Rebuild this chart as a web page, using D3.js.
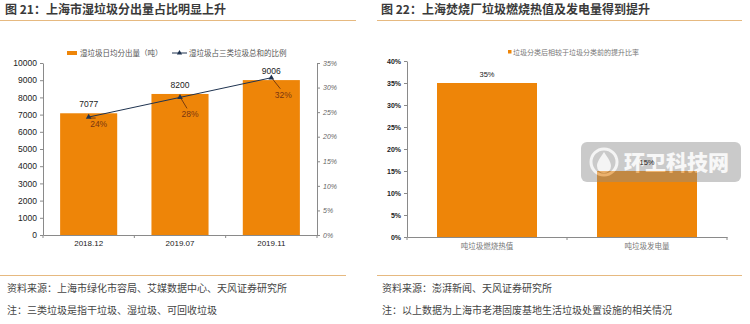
<!DOCTYPE html>
<html>
<head>
<meta charset="utf-8">
<script src="https://cdn.jsdelivr.net/npm/d3@7/dist/d3.min.js"></script>
<style>
  html, body { margin: 0; padding: 0; background: #fff; }
  svg { display: block; }
  text { font-family: "Liberation Sans", Arial, sans-serif; }
  .cjk { font-family: "Noto Sans CJK SC", sans-serif; }
</style>
</head>
<body>
<svg id="chart" width="750" height="324"></svg>
<script>
// Figure 21: wet waste sorted per day and its share of the three categories
const months = ["2018.12", "2019.07", "2019.11"];
const wetWasteTons = [7077, 8200, 9006];
const wetSharePct = [24, 28, 32];
const leftTicks = [0, 1000, 2000, 3000, 4000, 5000, 6000, 7000, 8000, 9000, 10000];
const rightTicks = [0, 5, 10, 15, 20, 25, 30, 35];

// Figure 22: improvement after sorting at the Laogang incineration plant
const plantMetrics = ["吨垃圾燃烧热值", "吨垃圾发电量"];
const improvementPct = [35, 15];
const plantTicks = [0, 5, 10, 15, 20, 25, 30, 35, 40];

const ORANGE = "#EE8508";
const NAVY = "#1F3350";
const AXIS = "#8a8a8a";

const svg = d3.select("#chart");
const base = svg.append("g");
const overlay = svg.append("g");   // site watermark
const labels = svg.append("g");    // value labels drawn on top

// ---- headers and footers ----
function header(x, text, lineX0, lineX1) {
  base.append("text").attr("class", "cjk")
    .attr("x", x).attr("y", 14)
    .attr("font-size", 12).attr("font-weight", 700).attr("fill", "#3a3a3a")
    .text(text);
  base.append("line")
    .attr("x1", lineX0).attr("x2", lineX1).attr("y1", 20.5).attr("y2", 20.5)
    .attr("stroke", "#E6B980").attr("stroke-width", 1.2);
}
header(5, "图 21：上海市湿垃圾分出量占比明显上升", 0, 356);
header(381, "图 22：上海焚烧厂垃圾燃烧热值及发电量得到提升", 377, 742);

function footer(x, lines, lineX0, lineX1) {
  base.append("line")
    .attr("x1", lineX0).attr("x2", lineX1).attr("y1", 275.5).attr("y2", 275.5)
    .attr("stroke", "#E6B980").attr("stroke-width", 1.2);
  lines.forEach((t, i) => {
    base.append("text").attr("class", "cjk")
      .attr("x", x).attr("y", 292 + i * 22)
      .attr("font-size", 10).attr("fill", "#454545")
      .text(t);
  });
}
footer(7, ["资料来源：上海市绿化市容局、艾媒数据中心、天风证券研究所",
           "注：三类垃圾是指干垃圾、湿垃圾、可回收垃圾"], 0, 346);
footer(382, ["资料来源：澎湃新闻、天风证券研究所",
             "注：以上数据为上海市老港固废基地生活垃圾处置设施的相关情况"], 377, 742);

// ---- Figure 21 ----
(function () {
  const x0 = 43, x1 = 317, yTop = 63, yBot = 235;
  const g = base.append("g");
  const x = d3.scaleBand().domain(months).range([x0, x1]).paddingInner(0.375).paddingOuter(0.1875);
  const yL = d3.scaleLinear().domain([0, 10000]).range([yBot, yTop]);
  const yR = d3.scaleLinear().domain([0, 35]).range([yBot, yTop]);

  // bars
  g.selectAll("rect.bar").data(months).join("rect")
    .attr("x", d => x(d)).attr("width", x.bandwidth())
    .attr("y", (d, i) => yL(wetWasteTons[i]))
    .attr("height", (d, i) => yBot - yL(wetWasteTons[i]))
    .attr("fill", ORANGE);

  // left axis
  const ax = g.append("g").attr("transform", `translate(${x0},0)`)
    .call(d3.axisLeft(yL).tickValues(leftTicks).tickFormat(d3.format("d"))
      .tickSize(3).tickPadding(3).tickSizeOuter(0));
  ax.selectAll("text").attr("font-size", 8.5).attr("fill", "#222");
  // right axis
  const ar = g.append("g").attr("transform", `translate(${x1},0)`)
    .call(d3.axisRight(yR).tickValues(rightTicks).tickFormat(d => d + "%").tickSize(3).tickPadding(3).tickSizeOuter(0));
  ar.selectAll("text").attr("font-size", 7).attr("fill", "#666").attr("font-style", "italic");
  // bottom axis with ticks at category boundaries
  const ab = g.append("g").attr("transform", `translate(0,${yBot})`)
    .call(d3.axisBottom(x).tickSize(0).tickPadding(5).tickSizeOuter(0));
  ab.selectAll("text").attr("font-size", 8).attr("fill", "#222");
  [0, 1, 2, 3].forEach(i => {
    const bx = x0 + i * (x1 - x0) / 3;
    g.append("line").attr("x1", bx).attr("x2", bx).attr("y1", yBot).attr("y2", yBot + 3)
      .attr("stroke", AXIS);
  });
  [ax, ar, ab].forEach(a => a.selectAll("path, line").attr("stroke", AXIS));

  // bar value labels
  g.selectAll("text.val").data(months).join("text")
    .attr("x", d => x(d) + x.bandwidth() / 2)
    .attr("y", (d, i) => yL(wetWasteTons[i]) - 6)
    .attr("text-anchor", "middle").attr("font-size", 8.5).attr("fill", "#222")
    .text((d, i) => wetWasteTons[i]);

  // share line
  const pts = months.map((d, i) => [x(d) + x.bandwidth() / 2, yR(wetSharePct[i])]);
  g.append("path").attr("d", d3.line()(pts))
    .attr("fill", "none").attr("stroke", NAVY).attr("stroke-width", 1);
  g.selectAll("path.mk").data(pts).join("path")
    .attr("transform", p => `translate(${p[0]},${p[1]})`)
    .attr("d", d3.symbol(d3.symbolTriangle, 14)())
    .attr("fill", NAVY);

  // share labels with leader lines
  const labelOffsets = [[10, 7], [10, 17], [12, 17]];
  pts.forEach((p, i) => {
    const [dx, dy] = labelOffsets[i];
    g.append("line")
      .attr("x1", p[0] + 1).attr("y1", p[1] + 1)
      .attr("x2", p[0] + dx - 3).attr("y2", p[1] + dy - 6)
      .attr("stroke", "#5a2a10").attr("stroke-width", 0.8);
    g.append("text")
      .attr("x", p[0] + dx).attr("y", p[1] + dy + 3)
      .attr("text-anchor", "middle").attr("font-size", 8.5).attr("fill", "#7a3510")
      .text(wetSharePct[i] + "%");
  });

  // legend
  const lg = g.append("g").attr("transform", "translate(67,53)");
  lg.append("rect").attr("x", 0).attr("y", -2).attr("width", 10).attr("height", 4).attr("fill", ORANGE);
  lg.append("text").attr("class", "cjk").attr("x", 13).attr("y", 3)
    .attr("font-size", 7.5).attr("fill", "#555").text("湿垃圾日均分出量（吨）");
  lg.append("line").attr("x1", 105).attr("x2", 120).attr("y1", 0).attr("y2", 0)
    .attr("stroke", NAVY).attr("stroke-width", 1);
  lg.append("path").attr("transform", "translate(112.5,0)")
    .attr("d", d3.symbol(d3.symbolTriangle, 12)()).attr("fill", NAVY);
  lg.append("text").attr("class", "cjk").attr("x", 122).attr("y", 3)
    .attr("font-size", 7.5).attr("fill", "#555").text("湿垃圾占三类垃圾总和的比例");
})();

// ---- Figure 22 ----
(function () {
  const x0 = 407, x1 = 727, yTop = 61, yBot = 237;
  const g = base.append("g");
  const x = d3.scaleBand().domain(plantMetrics).range([x0, x1]).paddingInner(0.375).paddingOuter(0.1875);
  const y = d3.scaleLinear().domain([0, 40]).range([yBot, yTop]);

  g.selectAll("rect.bar").data(plantMetrics).join("rect")
    .attr("x", d => x(d)).attr("width", x.bandwidth())
    .attr("y", (d, i) => y(improvementPct[i]))
    .attr("height", (d, i) => yBot - y(improvementPct[i]))
    .attr("fill", ORANGE);

  const ay = g.append("g").attr("transform", `translate(${x0},0)`)
    .call(d3.axisLeft(y).tickValues(plantTicks).tickFormat(d => d + "%").tickSize(3).tickPadding(3).tickSizeOuter(0));
  ay.selectAll("text").attr("font-size", 7).attr("font-weight", 700).attr("fill", "#222");
  const ab = g.append("g").attr("transform", `translate(0,${yBot})`)
    .call(d3.axisBottom(x).tickSize(0).tickPadding(7).tickSizeOuter(0));
  ab.selectAll("text").attr("class", "cjk").attr("font-size", 7.5).attr("fill", "#777");
  [0, 1, 2].forEach(i => {
    const bx = x0 + i * (x1 - x0) / 2;
    g.append("line").attr("x1", bx).attr("x2", bx).attr("y1", yBot).attr("y2", yBot + 3)
      .attr("stroke", AXIS);
  });
  [ay, ab].forEach(a => a.selectAll("path, line").attr("stroke", AXIS));

  // value labels sit above the watermark layer
  labels.selectAll("text.val").data(plantMetrics).join("text")
    .attr("x", d => x(d) + x.bandwidth() / 2)
    .attr("y", (d, i) => y(improvementPct[i]) - 6)
    .attr("text-anchor", "middle").attr("font-size", 7.5).attr("fill", "#222")
    .text((d, i) => improvementPct[i] + "%");

  // legend
  const lg = g.append("g").attr("transform", "translate(508,52)");
  lg.append("rect").attr("x", 0).attr("y", -2).attr("width", 3.5).attr("height", 3.5).attr("fill", ORANGE);
  lg.append("text").attr("class", "cjk").attr("x", 5).attr("y", 2.5)
    .attr("font-size", 7).attr("fill", "#777").text("垃圾分类后相较于垃圾分类前的提升比率");
})();

// ---- site watermark ----
(function () {
  const wm = overlay.append("g").attr("opacity", 0.45);
  wm.append("rect").attr("x", 581).attr("y", 142).attr("width", 160).attr("height", 40)
    .attr("rx", 6).attr("fill", "#8c8c8c");
  wm.append("circle").attr("cx", 604).attr("cy", 162).attr("r", 13)
    .attr("fill", "none").attr("stroke", "#e8e8e8").attr("stroke-width", 3);
  wm.append("path").attr("d", "M604,152 C600,158 597,162 597,166 A7,7 0 0 0 611,166 C611,162 608,158 604,152 Z")
    .attr("fill", "#e8e8e8");
  wm.append("text").attr("class", "cjk").attr("x", 624).attr("y", 170)
    .attr("font-size", 21).attr("font-weight", 900).attr("fill", "#eeeeee")
    .text("环卫科技网");
})();
</script>
</body>
</html>
